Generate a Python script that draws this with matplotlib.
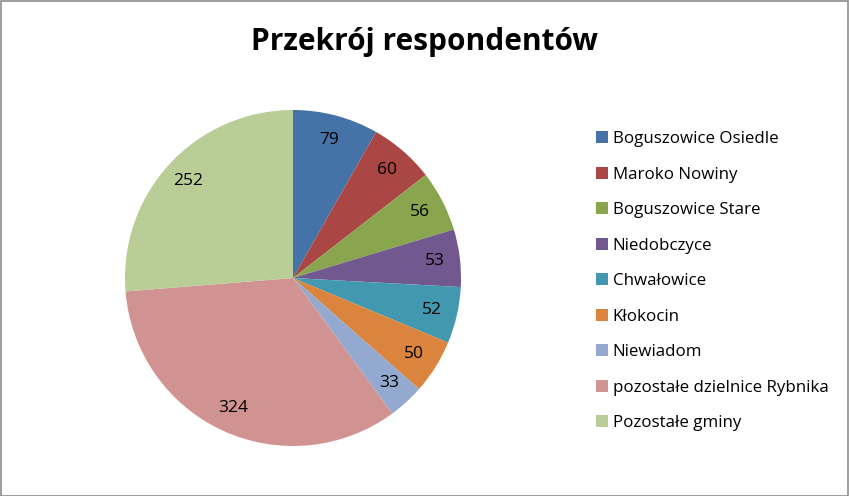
import matplotlib.pyplot as plt
from matplotlib.patches import Rectangle

plt.rcParams['font.family'] = ['Open Sans', 'DejaVu Sans']

labels = ["Boguszowice Osiedle", "Maroko Nowiny", "Boguszowice Stare", "Niedobczyce",
          "Chwałowice", "Kłokocin", "Niewiadom", "pozostałe dzielnice Rybnika", "Pozostałe gminy"]
values = [79, 60, 56, 53, 52, 50, 33, 324, 252]
colors = ["#4572A7", "#AA4643", "#89A54E", "#71588F", "#4198AF",
          "#DB843D", "#93A9CF", "#D19392", "#B9CD96"]

fig = plt.figure(figsize=(8.5, 4.96), dpi=100)
ax = fig.add_axes([0.0, 0.0, 1.0, 1.0])

# pie placed in pixel-like data units (y measured from bottom)
wedges, texts = ax.pie(values, colors=colors, startangle=90, counterclock=False,
                       center=(293, 218), radius=168, labels=[str(v) for v in values],
                       labeldistance=0.85, wedgeprops=dict(linewidth=0),
                       textprops=dict(fontsize=12.5, color="black"))
for t in texts:
    t.set_ha("center")
    t.set_va("center")

ax.set_xlim(0, 850)
ax.set_ylim(0, 496)
ax.set_aspect("equal")
ax.axis("off")

ax.text(425, 454, "Przekrój respondentów", ha="center", va="center",
        fontsize=21.5, fontweight="bold")

leg = ax.legend(wedges, labels, loc="upper left", bbox_to_anchor=(0.683, 0.766),
                frameon=False, fontsize=12.2, handlelength=0.7, handleheight=0.7,
                handletextpad=0.3, labelspacing=1.15)

fig.patches.append(Rectangle((0.001, 0.001), 0.997, 0.997, transform=fig.transFigure,
                             fill=False, edgecolor="#8c8c8c", linewidth=1.2))

fig.savefig("out.png", dpi=100)
